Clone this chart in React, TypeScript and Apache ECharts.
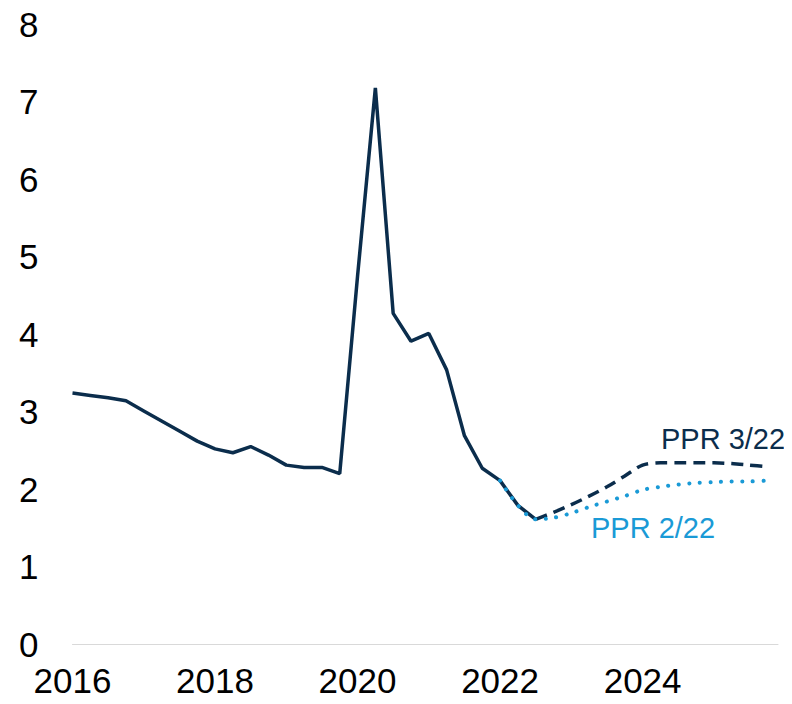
import React, { useEffect, useRef } from "react";
import * as echarts from "echarts";

// quarterly observations starting 2016 Q1
const startYear = 2016;
const actual = [
  3.24, 3.21, 3.18, 3.14, 3.01, 2.88, 2.75, 2.62, 2.52, 2.47,
  2.55, 2.44, 2.31, 2.28, 2.28, 2.2, 4.75, 7.18, 4.27, 3.91,
  4.01, 3.54, 2.69, 2.27, 2.11, 1.79, 1.61,
];
// PPR 2/22 projection from 2022 Q1 (index 24)
const ppr222Start = 24;
const ppr222 = [
  2.11, 1.79, 1.61, 1.63, 1.69, 1.77, 1.84, 1.91, 1.99, 2.03,
  2.06, 2.08, 2.09, 2.1, 2.1, 2.11,
];
// PPR 3/22 projection from 2022 Q3 (index 26)
const ppr322Start = 26;
const ppr322 = [
  1.61, 1.7, 1.8, 1.91, 2.03, 2.17, 2.31, 2.34, 2.34, 2.34,
  2.34, 2.33, 2.31, 2.29,
];
const xTickYears = [2016, 2018, 2020, 2022, 2024];
const labels = { ppr322: "PPR 3/22", ppr222: "PPR 2/22" };

const NAVY = "#0b2d4c";
const BLUE = "#1a9ad6";
const FONT = "'Liberation Sans', Arial, sans-serif";

const toPoints = (vals: number[], start: number) =>
  vals.map((v, i) => [startYear + (start + i) / 4, v]);

export default function App() {
  const ref = useRef<HTMLDivElement>(null);
  useEffect(() => {
    if (!ref.current) return;
    const chart = echarts.init(ref.current, undefined, { renderer: "svg" });
    chart.setOption({
      animation: false,
      grid: { left: 72.5, right: 14, top: 24.5, bottom: 60 },
      xAxis: {
        type: "value",
        min: 2016,
        max: 2025.9,
        interval: 2,
        axisLine: { show: true, lineStyle: { color: "#d9d9d9", width: 1 } },
        axisTick: { show: false },
        splitLine: { show: false },
        axisLabel: {
          fontSize: 35,
          fontFamily: FONT,
          color: "#000",
          margin: 19,
          showMaxLabel: false,
          formatter: (v: number) => (xTickYears.includes(v) ? String(v) : ""),
        },
      },
      yAxis: {
        type: "value",
        min: 0,
        max: 8,
        interval: 1,
        axisLine: { show: false },
        axisTick: { show: false },
        splitLine: { show: false },
        axisLabel: { fontSize: 35, fontFamily: FONT, color: "#000", margin: 34 },
      },
      series: [
        {
          type: "line",
          data: toPoints(actual, 0),
          showSymbol: false,
          lineStyle: { color: NAVY, width: 3.5 },
          z: 2,
        },
        {
          type: "line",
          data: toPoints(ppr322, ppr322Start),
          showSymbol: false,
          smooth: 0.3,
          lineStyle: { color: NAVY, width: 3.5, type: [12, 7] },
          z: 3,
        },
        {
          type: "line",
          data: toPoints(ppr222, ppr222Start),
          showSymbol: false,
          smooth: 0.3,
          lineStyle: { color: BLUE, width: 4, type: [0.1, 10.5], cap: "round" },
          z: 4,
        },
      ],
      graphic: [
        {
          type: "text",
          left: 661,
          top: 424,
          style: { text: labels.ppr322, fontSize: 29, fontFamily: FONT, fill: NAVY },
        },
        {
          type: "text",
          left: 591,
          top: 513,
          style: { text: labels.ppr222, fontSize: 29, fontFamily: FONT, fill: BLUE },
        },
      ],
    });
    return () => chart.dispose();
  }, []);
  return <div ref={ref} style={{ width: 792, height: 704, margin: -8 }} />;
}
